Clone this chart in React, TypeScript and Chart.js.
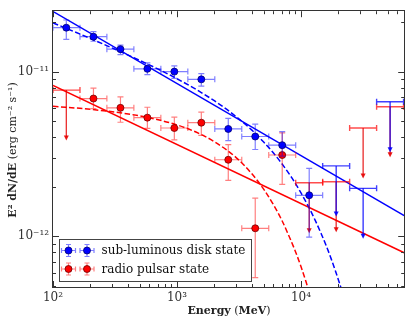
import React, { useEffect, useRef } from "react";
import { Chart, registerables } from "chart.js";

Chart.register(...registerables);

// ---------- Energy bins (MeV) ----------
const binLow = [100, 165, 272, 449, 741, 1223, 2018, 3330, 5495, 9067, 14960, 24690, 40740];
const binHigh = [165, 272, 449, 741, 1223, 2018, 3330, 5495, 9067, 14960, 24690, 40740, 67220];
const binCenter = [128, 212, 350, 577, 952, 1571, 2592, 4277, 7058, 11650, 19220, 31710, 52330];

// ---------- sub-luminous disk state (erg cm^-2 s^-1) ----------
const diskFlux = [1.85e-11, 1.63e-11, 1.37e-11, 1.04e-11, 1.0e-11, 8.97e-12, 4.48e-12, 4.03e-12, 3.57e-12, 1.77e-12, null, null, null];
const diskHigh = [2.06e-11, 1.75e-11, 1.45e-11, 1.13e-11, 1.085e-11, 9.73e-12, 5.2e-12, 4.79e-12, 4.31e-12, 2.58e-12, null, null, null];
const diskLow = [1.57e-11, 1.53e-11, 1.27e-11, 9.6e-12, 9.09e-12, 8.15e-12, 3.8e-12, 3.36e-12, 3.06e-12, 9.86e-13, null, null, null];
const diskUL = [null, null, null, null, null, null, null, null, null, null, 2.67e-12, 1.95e-12, 6.56e-12];

// ---------- radio pulsar state ----------
const pulsarFlux = [null, 6.86e-12, 6.02e-12, 5.25e-12, 4.54e-12, 4.89e-12, 2.91e-12, 1.115e-12, 3.11e-12, null, null, null, null];
const pulsarHigh = [null, 7.93e-12, 7.02e-12, 6.07e-12, 5.29e-12, 5.67e-12, 3.6e-12, 1.7e-12, 4.24e-12, null, null, null, null];
const pulsarLow = [null, 5.96e-12, 4.92e-12, 4.52e-12, 3.85e-12, 4.09e-12, 2.18e-12, 5.59e-13, 2.06e-12, null, null, null, null];
const pulsarUL = [7.72e-12, null, null, null, null, null, null, null, null, 2.11e-12, 2.14e-12, 4.54e-12, 6.12e-12];

// ---------- model curves ----------
const diskPowE = [100, 68000];
const diskPowF = [2.32e-11, 1.33e-12];
const pulsarPowE = [100, 68000];
const pulsarPowF = [8.23e-12, 7.91e-13];

const diskCutE = [100, 200, 500, 1000, 2000, 3000, 4000, 5000, 6000, 7000, 8500, 10000, 11500, 13000, 14500, 16000, 17500, 19000, 20500, 22000];
const diskCutF = [1.98e-11, 1.59e-11, 1.17e-11, 9.05e-12, 6.65e-12, 5.32e-12, 4.42e-12, 3.73e-12, 3.2e-12, 2.76e-12, 2.24e-12, 1.83e-12, 1.51e-12, 1.25e-12, 1.04e-12, 8.71e-13, 7.29e-13, 6.11e-13, 5.14e-13, 4.33e-13];
const pulsarCutE = [100, 200, 500, 1000, 1500, 2000, 3000, 4000, 5000, 6000, 7000, 8000, 9000, 10000, 11000, 12000];
const pulsarCutF = [6.15e-12, 5.9e-12, 5.38e-12, 4.74e-12, 4.21e-12, 3.75e-12, 3.0e-12, 2.4e-12, 1.93e-12, 1.55e-12, 1.25e-12, 1.0e-12, 8.09e-13, 6.52e-13, 5.25e-13, 4.24e-13];

// ---------- axes & text ----------
const xTicks = [100, 1000, 10000];
const xTickLabels = ["10²", "10³", "10⁴"];
const yTicks = [1e-12, 1e-11];
const yTickLabels = ["10⁻¹²", "10⁻¹¹"];
const X_MIN = 100;
const X_MAX = 68000;
const Y_MIN = 4.9e-13;
const Y_MAX = 2.33e-11;
const legendLabels = ["sub-luminous disk state", "radio pulsar state"];

const FONT = '"DejaVu Serif", serif';
const BLUE = "#0000ff";
const RED = "#ff0000";

const series = [
  { flux: diskFlux, hi: diskHigh, lo: diskLow, ul: diskUL, err: "rgba(0,0,255,0.5)", ulBar: "rgba(0,0,255,0.75)", ulLine: "rgba(0,0,255,0.9)", fill: BLUE, edge: "#00006e" },
  { flux: pulsarFlux, hi: pulsarHigh, lo: pulsarLow, ul: pulsarUL, err: "rgba(255,0,0,0.5)", ulBar: "rgba(255,0,0,0.7)", ulLine: "rgba(230,0,0,0.9)", fill: RED, edge: "#6e0000" },
];

const CAP = 3;
const ARROW_FACTOR = 0.5;

function drawSeriesErrors(chart: any, s: any) {
  const ctx = chart.ctx;
  const xs = chart.scales.x;
  const ys = chart.scales.y;
  const a = chart.chartArea;
  ctx.save();
  ctx.beginPath();
  ctx.rect(a.left, a.top, a.right - a.left, a.bottom - a.top);
  ctx.clip();
  ctx.lineWidth = 1.2;
  for (let i = 0; i < binCenter.length; i++) {
    const x0 = xs.getPixelForValue(binLow[i]);
    const x1 = xs.getPixelForValue(binHigh[i]);
    const xc = xs.getPixelForValue(binCenter[i]);
    if (s.flux[i] != null) {
      const y = ys.getPixelForValue(s.flux[i]);
      const yh = ys.getPixelForValue(s.hi[i]);
      const yl = ys.getPixelForValue(s.lo[i]);
      ctx.strokeStyle = s.err;
      ctx.lineWidth = 1.2;
      ctx.beginPath();
      ctx.moveTo(x0, y); ctx.lineTo(x1, y);
      ctx.moveTo(x0, y - CAP); ctx.lineTo(x0, y + CAP);
      ctx.moveTo(x1, y - CAP); ctx.lineTo(x1, y + CAP);
      ctx.moveTo(xc, yh); ctx.lineTo(xc, yl);
      ctx.moveTo(xc - CAP, yh); ctx.lineTo(xc + CAP, yh);
      ctx.moveTo(xc - CAP, yl); ctx.lineTo(xc + CAP, yl);
      ctx.stroke();
    }
    if (s.ul[i] != null) {
      const y = ys.getPixelForValue(s.ul[i]);
      const ye = ys.getPixelForValue(s.ul[i] * ARROW_FACTOR);
      ctx.strokeStyle = s.ulBar;
      ctx.lineWidth = 1.4;
      ctx.beginPath();
      ctx.moveTo(x0, y); ctx.lineTo(x1, y);
      ctx.moveTo(x0, y - CAP); ctx.lineTo(x0, y + CAP);
      ctx.moveTo(x1, y - CAP); ctx.lineTo(x1, y + CAP);
      ctx.stroke();
      ctx.strokeStyle = s.ulLine;
      ctx.lineWidth = 1.2;
      ctx.beginPath();
      ctx.moveTo(xc, y); ctx.lineTo(xc, ye - 2);
      ctx.stroke();
      ctx.fillStyle = s.ulLine;
      ctx.beginPath();
      ctx.moveTo(xc - 2.5, ye - 4); ctx.lineTo(xc + 2.5, ye - 4); ctx.lineTo(xc, ye + 1);
      ctx.closePath();
      ctx.fill();
    }
  }
  ctx.restore();
}

const decoPlugin = {
  id: "deco",
  beforeDatasetDraw(chart: any, args: any) {
    const ds = chart.data.datasets[args.index];
    if (ds.errSeries !== undefined) drawSeriesErrors(chart, series[ds.errSeries]);
  },
  afterDraw(chart: any) {
    const ctx = chart.ctx;
    const a = chart.chartArea;
    const xs = chart.scales.x;
    const ys = chart.scales.y;
    ctx.save();
    // frame
    ctx.strokeStyle = "#333";
    ctx.lineWidth = 1;
    ctx.strokeRect(Math.round(a.left) - 0.5, Math.round(a.top) - 0.5, Math.round(a.right - a.left) + 1, Math.round(a.bottom - a.top) + 1);
    // ticks
    ctx.beginPath();
    for (let d = 2; d <= 4; d++) {
      for (let m = 1; m <= 9; m++) {
        const v = m * Math.pow(10, d);
        if (v < X_MIN || v > X_MAX) continue;
        const x = Math.round(xs.getPixelForValue(v)) + 0.5;
        const len = m === 1 ? 6 : 3;
        ctx.moveTo(x, a.bottom); ctx.lineTo(x, a.bottom - len);
        ctx.moveTo(x, a.top); ctx.lineTo(x, a.top + len);
      }
    }
    for (let d = -13; d <= -11; d++) {
      for (let m = 1; m <= 9; m++) {
        const v = m * Math.pow(10, d);
        if (v < Y_MIN || v > Y_MAX) continue;
        const y = Math.round(ys.getPixelForValue(v)) + 0.5;
        const len = m === 1 ? 6 : 3;
        ctx.moveTo(a.left, y); ctx.lineTo(a.left + len, y);
        ctx.moveTo(a.right, y); ctx.lineTo(a.right - len, y);
      }
    }
    ctx.stroke();

    // legend
    const lx0 = 59, ly0 = 239, lx1 = 251, ly1 = 281;
    ctx.fillStyle = "#fff";
    ctx.fillRect(lx0, ly0, lx1 - lx0, ly1 - ly0);
    ctx.strokeStyle = "#444";
    ctx.lineWidth = 1;
    ctx.strokeRect(lx0 + 0.5, ly0 + 0.5, lx1 - lx0, ly1 - ly0);
    const rows = [250.5, 269];
    const mx = [68.5, 87];
    for (let r = 0; r < 2; r++) {
      const s = series[r];
      const y = rows[r];
      for (const x of mx) {
        ctx.strokeStyle = s.err;
        ctx.lineWidth = 1.2;
        ctx.beginPath();
        ctx.moveTo(x - 7, y); ctx.lineTo(x + 7, y);
        ctx.moveTo(x - 7, y - 2.5); ctx.lineTo(x - 7, y + 2.5);
        ctx.moveTo(x + 7, y - 2.5); ctx.lineTo(x + 7, y + 2.5);
        ctx.moveTo(x, y - 6); ctx.lineTo(x, y + 6);
        ctx.moveTo(x - 2.5, y - 6); ctx.lineTo(x + 2.5, y - 6);
        ctx.moveTo(x - 2.5, y + 6); ctx.lineTo(x + 2.5, y + 6);
        ctx.stroke();
        ctx.fillStyle = s.fill;
        ctx.strokeStyle = s.edge;
        ctx.lineWidth = 0.8;
        ctx.beginPath();
        ctx.arc(x, y, 3.5, 0, Math.PI * 2);
        ctx.fill();
        ctx.stroke();
      }
      ctx.fillStyle = "#111";
      ctx.font = `12px ${FONT}`;
      ctx.textBaseline = "middle";
      ctx.textAlign = "left";
      ctx.fillText(legendLabels[r], 101.5, y + 0.5);
    }

    // x title
    ctx.fillStyle = "#222";
    ctx.textBaseline = "middle";
    ctx.textAlign = "left";
    const xParts = [
      { t: "Energy", f: `bold 11px ${FONT}` },
      { t: " (", f: `11px ${FONT}` },
      { t: "MeV", f: `bold 11px ${FONT}` },
      { t: ")", f: `11px ${FONT}` },
    ];
    let tw = 0;
    for (const p of xParts) { ctx.font = p.f; tw += ctx.measureText(p.t).width; }
    let cx = 229 - tw / 2;
    for (const p of xParts) { ctx.font = p.f; ctx.fillText(p.t, cx, 311.5); cx += ctx.measureText(p.t).width; }

    // y title
    ctx.save();
    ctx.translate(13, 150);
    ctx.rotate(-Math.PI / 2);
    const yParts = [
      { t: "E² dN/dE", f: `bold 11px ${FONT}` },
      { t: " (erg cm⁻² s⁻¹)", f: `11px ${FONT}` },
    ];
    tw = 0;
    for (const p of yParts) { ctx.font = p.f; tw += ctx.measureText(p.t).width; }
    cx = -tw / 2;
    for (const p of yParts) { ctx.font = p.f; ctx.fillText(p.t, cx, 0); cx += ctx.measureText(p.t).width; }
    ctx.restore();

    ctx.restore();
  },
};

function pts(xsArr: number[], ysArr: (number | null)[]) {
  const out: { x: number; y: number }[] = [];
  for (let i = 0; i < xsArr.length; i++) {
    const y = ysArr[i];
    if (y != null) out.push({ x: xsArr[i], y });
  }
  return out;
}

function tickLabel(value: number, ticks: number[], labels: string[]) {
  for (let i = 0; i < ticks.length; i++) {
    if (Math.abs(Math.log10(value) - Math.log10(ticks[i])) < 1e-6) return labels[i];
  }
  return "";
}

export default function App() {
  const ref = useRef<HTMLCanvasElement | null>(null);
  useEffect(() => {
    if (!ref.current) return;
    const lineBase = { showLine: true, pointRadius: 0, pointHoverRadius: 0, borderWidth: 1.5, fill: false, clip: 0, order: 2 };
    const chart = new Chart(ref.current, {
      type: "scatter",
      data: {
        datasets: [
          { ...lineBase, data: pts(diskPowE, diskPowF), borderColor: BLUE },
          { ...lineBase, data: pts(diskCutE, diskCutF), borderColor: BLUE, borderDash: [5.5, 2.5], cubicInterpolationMode: "monotone" },
          { ...lineBase, data: pts(pulsarPowE, pulsarPowF), borderColor: RED },
          { ...lineBase, data: pts(pulsarCutE, pulsarCutF), borderColor: RED, borderDash: [5.5, 2.5], cubicInterpolationMode: "monotone" },
          { data: pts(binCenter, diskFlux), backgroundColor: BLUE, borderColor: series[0].edge, borderWidth: 0.8, pointRadius: 3.5, order: 1, errSeries: 0 } as any,
          { data: pts(binCenter, pulsarFlux), backgroundColor: RED, borderColor: series[1].edge, borderWidth: 0.8, pointRadius: 3.5, order: 1, errSeries: 1 } as any,
        ] as any,
      },
      options: {
        animation: false,
        responsive: true,
        maintainAspectRatio: false,
        layout: { padding: { top: 3, right: 3, left: 0, bottom: 0 } },
        plugins: { legend: { display: false }, tooltip: { enabled: false } },
        scales: {
          x: {
            type: "logarithmic",
            min: X_MIN,
            max: X_MAX,
            grid: { display: false, drawTicks: false },
            border: { display: false },
            ticks: {
              font: { family: FONT, size: 12 },
              color: "#333",
              padding: 4,
              maxRotation: 0,
              autoSkip: false,
              callback: (v: any) => tickLabel(Number(v), xTicks, xTickLabels),
            },
            afterBuildTicks: (s: any) => { s.ticks = xTicks.map((v) => ({ value: v })); },
            afterFit: (s: any) => { s.height = 40; },
          },
          y: {
            type: "logarithmic",
            min: Y_MIN,
            max: Y_MAX,
            grid: { display: false, drawTicks: false },
            border: { display: false },
            ticks: {
              font: { family: FONT, size: 12 },
              color: "#333",
              padding: 4,
              autoSkip: false,
              callback: (v: any) => tickLabel(Number(v), yTicks, yTickLabels),
            },
            afterBuildTicks: (s: any) => { s.ticks = yTicks.map((v) => ({ value: v })); },
            afterFit: (s: any) => { s.width = 53; },
          },
        },
      } as any,
      plugins: [decoPlugin],
    });
    return () => chart.destroy();
  }, []);
  return (
    <div style={{ position: "fixed", left: 0, top: 0, width: 409, height: 327, background: "#fff" }}>
      <canvas ref={ref} />
    </div>
  );
}
